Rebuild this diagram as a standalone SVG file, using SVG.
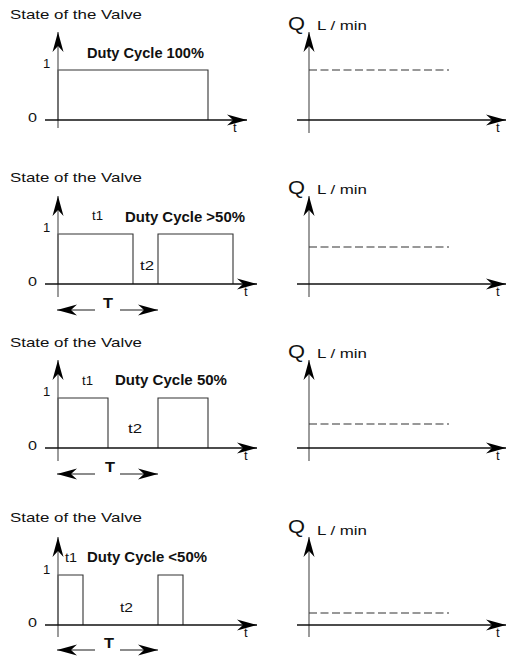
<svg xmlns="http://www.w3.org/2000/svg" width="508" height="657" viewBox="0 0 508 657">
<style>
text{font-family:"Liberation Sans",Arial,sans-serif;fill:#111}
.lbl{font-size:13px}
.b{font-size:14px;font-weight:bold}
.q{font-size:18px}
.yax{stroke:#666;stroke-width:1.3;fill:none}
.xax{stroke:#111;stroke-width:1.3;fill:none}
.sig{stroke:#333;stroke-width:1.1;fill:none}
.dash{stroke:#333;stroke-width:1.2;stroke-dasharray:8 3.5;fill:none}
.tarr{stroke:#666;stroke-width:1.3;fill:none}
</style>
<defs>
<marker id="ah" viewBox="-22 -6 22 12" refX="0" refY="0" markerWidth="22" markerHeight="12" markerUnits="userSpaceOnUse" orient="auto">
<path d="M0,0 L-20,-5.5 L-14,0 L-20,5.5 Z" fill="#000"/>
</marker>
</defs>

<g id="panel1">
<g id="p1-left">
<text class="lbl" x="10" y="19" textLength="132" lengthAdjust="spacingAndGlyphs">State of the Valve</text>
<text class="b" x="87" y="58" textLength="117" lengthAdjust="spacingAndGlyphs">Duty Cycle 100%</text>
<text class="lbl" x="43" y="68">1</text>
<text class="lbl" x="28" y="122" textLength="9" lengthAdjust="spacingAndGlyphs">0</text>
<text class="lbl" x="233" y="132">t</text>
</g>
<g id="p1-right">
<text class="q" x="288" y="30" textLength="17" lengthAdjust="spacingAndGlyphs">Q</text>
<text class="lbl" x="317" y="30" textLength="50" lengthAdjust="spacingAndGlyphs">L / min</text>
<text class="lbl" x="496" y="132">t</text>
</g>
</g>

<g id="panel2" transform="translate(0,164)">
<g id="p2-left">
<text class="lbl" x="10" y="18" textLength="132" lengthAdjust="spacingAndGlyphs">State of the Valve</text>
<text class="lbl" x="92" y="56" textLength="11" lengthAdjust="spacingAndGlyphs">t1</text>
<text class="b" x="125" y="58" textLength="120" lengthAdjust="spacingAndGlyphs">Duty Cycle &gt;50%</text>
<text class="lbl" x="140" y="106" textLength="14" lengthAdjust="spacingAndGlyphs">t2</text>
<text class="lbl" x="43" y="68">1</text>
<text class="lbl" x="28" y="122" textLength="9" lengthAdjust="spacingAndGlyphs">0</text>
<text class="lbl" x="244" y="132">t</text>
<text class="b" x="103" y="144" textLength="10" lengthAdjust="spacingAndGlyphs">T</text>
</g>
<g id="p2-right">
<text class="q" x="288" y="30" textLength="17" lengthAdjust="spacingAndGlyphs">Q</text>
<text class="lbl" x="317" y="30" textLength="50" lengthAdjust="spacingAndGlyphs">L / min</text>
<text class="lbl" x="496" y="132">t</text>
</g>
</g>

<g id="panel3" transform="translate(0,328)">
<g id="p3-left">
<text class="lbl" x="10" y="19" textLength="132" lengthAdjust="spacingAndGlyphs">State of the Valve</text>
<text class="lbl" x="82" y="57" textLength="11" lengthAdjust="spacingAndGlyphs">t1</text>
<text class="b" x="115" y="57" textLength="112" lengthAdjust="spacingAndGlyphs">Duty Cycle 50%</text>
<text class="lbl" x="128" y="105" textLength="14" lengthAdjust="spacingAndGlyphs">t2</text>
<text class="lbl" x="43" y="68">1</text>
<text class="lbl" x="28" y="122" textLength="9" lengthAdjust="spacingAndGlyphs">0</text>
<text class="lbl" x="244" y="132">t</text>
<text class="b" x="105" y="144" textLength="10" lengthAdjust="spacingAndGlyphs">T</text>
</g>
<g id="p3-right">
<text class="q" x="288" y="30" textLength="17" lengthAdjust="spacingAndGlyphs">Q</text>
<text class="lbl" x="317" y="30" textLength="50" lengthAdjust="spacingAndGlyphs">L / min</text>
<text class="lbl" x="496" y="132">t</text>
</g>
</g>

<g id="panel4" transform="translate(0,505)">
<g id="p4-left">
<text class="lbl" x="10" y="17" textLength="132" lengthAdjust="spacingAndGlyphs">State of the Valve</text>
<text class="lbl" x="65" y="57" textLength="12" lengthAdjust="spacingAndGlyphs">t1</text>
<text class="b" x="87" y="57" textLength="120" lengthAdjust="spacingAndGlyphs">Duty Cycle &lt;50%</text>
<text class="lbl" x="120" y="107" textLength="13" lengthAdjust="spacingAndGlyphs">t2</text>
<text class="lbl" x="43" y="69">1</text>
<text class="lbl" x="28" y="122" textLength="9" lengthAdjust="spacingAndGlyphs">0</text>
<text class="lbl" x="244" y="132">t</text>
<text class="b" x="104" y="143" textLength="10" lengthAdjust="spacingAndGlyphs">T</text>
</g>
<g id="p4-right">
<text class="q" x="288" y="28" textLength="17" lengthAdjust="spacingAndGlyphs">Q</text>
<text class="lbl" x="317" y="30" textLength="50" lengthAdjust="spacingAndGlyphs">L / min</text>
<text class="lbl" x="496" y="132">t</text>
</g>
</g>

<g id="connectors">
<g transform="translate(0,0)">
<polyline class="sig" points="58,120 58,70 208,70 208,120"/>
<line class="yax" x1="58" y1="128" x2="58" y2="32" marker-end="url(#ah)"/>
<line class="xax" x1="45" y1="120" x2="247" y2="120" marker-end="url(#ah)"/>
<line class="yax" x1="309" y1="133" x2="309" y2="32" marker-end="url(#ah)"/>
<line class="xax" x1="297" y1="120" x2="506" y2="120" marker-end="url(#ah)"/>
<line class="dash" x1="309" y1="70" x2="449" y2="70"/>
</g>
<g transform="translate(0,164)">
<polyline class="sig" points="58,120 58,70 133,70 133,120"/>
<polyline class="sig" points="158,120 158,70 233,70 233,120"/>
<line class="yax" x1="58" y1="133" x2="58" y2="32" marker-end="url(#ah)"/>
<line class="xax" x1="45" y1="120" x2="257" y2="120" marker-end="url(#ah)"/>
<line class="tarr" x1="95" y1="146" x2="57" y2="146" marker-end="url(#ah)"/>
<line class="tarr" x1="120" y1="146" x2="158" y2="146" marker-end="url(#ah)"/>
<line class="yax" x1="309" y1="133" x2="309" y2="32" marker-end="url(#ah)"/>
<line class="xax" x1="297" y1="120" x2="506" y2="120" marker-end="url(#ah)"/>
<line class="dash" x1="309" y1="83" x2="449" y2="83"/>
</g>
<g transform="translate(0,328)">
<polyline class="sig" points="58,120 58,70 108,70 108,120"/>
<polyline class="sig" points="158,120 158,70 208,70 208,120"/>
<line class="yax" x1="58" y1="133" x2="58" y2="32" marker-end="url(#ah)"/>
<line class="xax" x1="45" y1="120" x2="257" y2="120" marker-end="url(#ah)"/>
<line class="tarr" x1="95" y1="146" x2="57" y2="146" marker-end="url(#ah)"/>
<line class="tarr" x1="120" y1="146" x2="158" y2="146" marker-end="url(#ah)"/>
<line class="yax" x1="309" y1="133" x2="309" y2="32" marker-end="url(#ah)"/>
<line class="xax" x1="297" y1="120" x2="506" y2="120" marker-end="url(#ah)"/>
<line class="dash" x1="309" y1="96" x2="449" y2="96"/>
</g>
<g transform="translate(0,505)">
<polyline class="sig" points="58,120 58,70 83,70 83,120"/>
<polyline class="sig" points="158,120 158,70 183,70 183,120"/>
<line class="yax" x1="58" y1="132" x2="58" y2="32" marker-end="url(#ah)"/>
<line class="xax" x1="45" y1="120" x2="257" y2="120" marker-end="url(#ah)"/>
<line class="tarr" x1="95" y1="145" x2="57" y2="145" marker-end="url(#ah)"/>
<line class="tarr" x1="120" y1="145" x2="158" y2="145" marker-end="url(#ah)"/>
<line class="yax" x1="309" y1="132" x2="309" y2="32" marker-end="url(#ah)"/>
<line class="xax" x1="297" y1="120" x2="506" y2="120" marker-end="url(#ah)"/>
<line class="dash" x1="309" y1="108" x2="449" y2="108"/>
</g>
</g>
</svg>
